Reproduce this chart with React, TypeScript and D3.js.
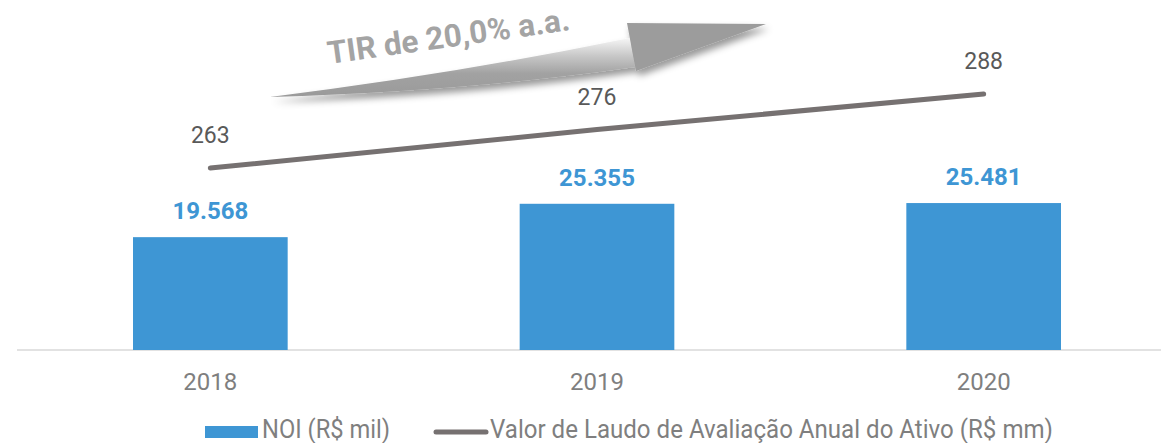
import React from "react";
import * as d3 from "d3";

const years = ["2018", "2019", "2020"];
const noi = [19568, 25355, 25481];
const laudo = [263, 276, 288];
const noiLabels = ["19.568", "25.355", "25.481"];
const laudoLabels = ["263", "276", "288"];
const legendNames = ["NOI (R$ mil)", "Valor de Laudo de Avaliação Anual do Ativo (R$ mm)"];
const arrowText = "TIR de 20,0% a.a.";

const W = 1161;
const H = 443;
const FONT = "Roboto, 'Noto Sans', Arial, sans-serif";

export default function App() {
  const x = d3.scaleBand<string>().domain(years).range([17, 1177]).paddingInner(0.6).paddingOuter(0.3);
  const y = d3.scaleLinear().domain([0, 60000]).range([350, 4]);
  const y2 = d3.scaleLinear().domain([200, 300]).range([354.5, 58.5]);
  const cx = (d: string) => (x(d) as number) + x.bandwidth() / 2;

  const line = d3
    .line<number>()
    .x((_, i) => cx(years[i]))
    .y((d) => y2(d));

  return (
    <svg
      width={W}
      height={H}
      style={{ position: "absolute", left: 0, top: 0, background: "#fff" }}
      fontFamily={FONT}
    >
      <defs>
        <filter id="shadow" x="-10%" y="-50%" width="130%" height="250%">
          <feDropShadow dx="3" dy="5" stdDeviation="3.5" floodColor="#000" floodOpacity="0.4" />
        </filter>
        <linearGradient id="shaftGrad" x1="0" y1="0" x2="0" y2="1">
          <stop offset="0" stopColor="#f6f6f6" />
          <stop offset="0.3" stopColor="#c8c8c8" />
          <stop offset="0.6" stopColor="#a2a2a2" />
          <stop offset="1" stopColor="#9a9a9a" />
        </linearGradient>
      </defs>

      {/* arrow decoration */}
      <g filter="url(#shadow)">
        <path d="M270,97 Q455,74 630,38 L635,67 Q470,91 270,97 Z" fill="url(#shaftGrad)" />
        <path d="M627,23 L766,24 L636,71 Z" fill="#9c9c9c" />
      </g>
      <text
        x={329}
        y={64}
        transform="rotate(-8 329 64)"
        fontSize={31.5}
        fontWeight={700}
        fill="#a4a4a4"
      >
        {arrowText}
      </text>

      {/* axis line */}
      <line x1={17} x2={W} y1={y(0)} y2={y(0)} stroke="#d9d9d9" strokeWidth={1.5} />

      {/* bars */}
      {noi.map((v, i) => (
        <rect
          key={years[i]}
          x={x(years[i])}
          y={y(v)}
          width={x.bandwidth()}
          height={y(0) - y(v)}
          fill="#3e96d4"
        />
      ))}
      {noi.map((v, i) => (
        <text
          key={"nl" + i}
          x={cx(years[i])}
          y={y(v) - 18}
          textAnchor="middle"
          fontSize={24}
          fontWeight={700}
          fill="#3e96d4"
        >
          {noiLabels[i]}
        </text>
      ))}

      {/* line */}
      <path d={line(laudo) || ""} fill="none" stroke="#767171" strokeWidth={5} strokeLinecap="round" />
      {laudo.map((v, i) => (
        <text
          key={"ll" + i}
          x={cx(years[i])}
          y={y2(v) - 25}
          textAnchor="middle"
          fontSize={23}
          fill="#595959"
        >
          {laudoLabels[i]}
        </text>
      ))}

      {/* x labels */}
      {years.map((yr) => (
        <text key={"x" + yr} x={cx(yr)} y={390} textAnchor="middle" fontSize={24} fill="#7f7f7f">
          {yr}
        </text>
      ))}

      {/* legend */}
      <rect x={205} y={426} width={53} height={12} fill="#3e96d4" />
      <text x={262} y={438} fontSize={26} fill="#7f7f7f" textLength={128} lengthAdjust="spacingAndGlyphs">
        {legendNames[0]}
      </text>
      <line x1={436} x2={486} y1={432} y2={432} stroke="#767171" strokeWidth={5} strokeLinecap="round" />
      <text x={490} y={438} fontSize={26} fill="#7f7f7f" textLength={563} lengthAdjust="spacingAndGlyphs">
        {legendNames[1]}
      </text>
    </svg>
  );
}
